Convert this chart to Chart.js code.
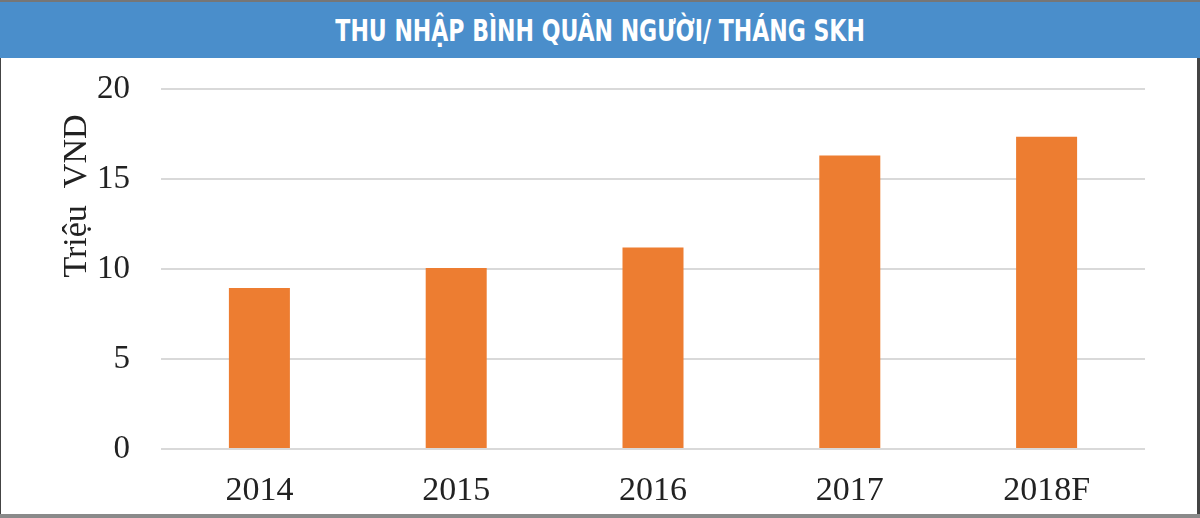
<!DOCTYPE html>
<html>
<head>
<meta charset="utf-8">
<script src="https://cdn.jsdelivr.net/npm/chart.js@4.4.1/dist/chart.umd.min.js"></script>
<style>
  html, body { margin: 0; padding: 0; background: #fff; }
  .frame {
    position: relative;
    width: 1200px;
    height: 518px;
    box-sizing: border-box;
    border-top: 2px solid #767676;
    border-bottom: 4px solid #8a8a8a;
    overflow: hidden;
  }
  .header {
    height: 56px;
    line-height: 56px;
    background: #4a8ecb;
    color: #fff;
    text-align: center;
    font-family: 'DejaVu Sans', sans-serif;
    font-stretch: condensed;
    font-weight: bold;
    font-size: 31px;
  }
  .header span { display: inline-block; transform: scaleX(0.79); }
  .chart-main-container {
    position: relative;
    height: 456px;
    border-left: 1px solid #444;
    border-right: 3px solid #444;
  }
</style>
</head>
<body>
<div class="frame">
  <div class="header"><span>THU NHẬP BÌNH QUÂN NGƯỜI/ THÁNG SKH</span></div>
  <div class="chart-main-container">
    <canvas id="myChart"></canvas>
  </div>
</div>
<script>
const years = ['2014', '2015', '2016', '2017', '2018F'];
const income = [8.95, 10.05, 11.2, 16.3, 17.35];
const yTicks = [0, 5, 10, 15, 20];

const ctx = document.querySelector('#myChart').getContext('2d');
const serif = "'Liberation Serif', 'Times New Roman', serif";

const chartMain = {
  type: 'bar',
  data: {
    labels: years,
    datasets: [
      {
        label: 'Triệu VND',
        data: income,
        backgroundColor: '#ed7d31',
        borderWidth: 0,
        barPercentage: 0.31,
        categoryPercentage: 1,
      },
    ],
  },
  options: {
    responsive: true,
    maintainAspectRatio: false,
    animation: false,
    layout: {
      padding: { top: 31, right: 52, bottom: 0, left: 0 },
    },
    plugins: {
      legend: { display: false },
      tooltip: { enabled: false },
    },
    scales: {
      x: {
        afterFit: scale => {
          scale.height = 65;
          scale.paddingLeft = 0;
          scale.paddingRight = 0;
        },
        grid: { display: false, drawTicks: false },
        border: { display: false },
        ticks: {
          color: '#222',
          padding: 22,
          font: { family: serif, size: 34 },
        },
      },
      y: {
        min: yTicks[0],
        max: yTicks[yTicks.length - 1],
        afterBuildTicks: scale => {
          scale.ticks = yTicks.map(v => ({ value: v }));
        },
        afterFit: scale => {
          scale.width = 160;
          scale.paddingTop = 0;
          scale.paddingBottom = 0;
        },
        grid: { color: '#d9d9d9', lineWidth: 2, drawTicks: false },
        border: { display: false },
        ticks: {
          color: '#222',
          padding: 31,
          font: { family: serif, size: 33 },
        },
        title: {
          display: true,
          text: 'Triệu  VND\u00a0\u00a0\u00a0',
          align: 'end',
          color: '#222',
          padding: { top: 56, bottom: 0 },
          font: { family: serif, size: 34 },
        },
      },
    },
  },
};

const weatherChart = new Chart(ctx, chartMain);
</script>
</body>
</html>
